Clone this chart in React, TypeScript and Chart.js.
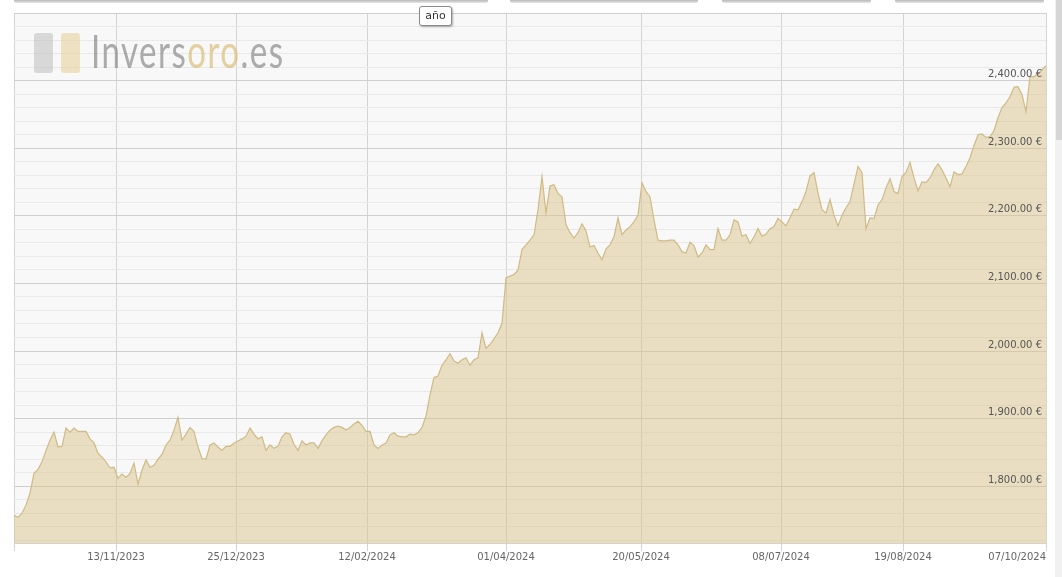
import React, { useEffect, useRef } from 'react';
import { Chart, registerables } from 'chart.js';

Chart.register(...registerables);

// Gold price in EUR, one value per trading day (Oct 2023 - Oct 2024)
const priceValues: number[] = [
  1757, 1754, 1760, 1772, 1790, 1819, 1825, 1836, 1853, 1868,
  1880, 1858, 1859, 1886, 1880, 1886, 1881, 1881, 1881, 1870,
  1864, 1849, 1843, 1836, 1827, 1828, 1812, 1818, 1813, 1819,
  1834, 1803, 1824, 1839, 1828, 1831, 1840, 1847, 1861, 1868,
  1883, 1902, 1868, 1877, 1887, 1881, 1858, 1841, 1840, 1861,
  1864, 1858, 1853, 1859, 1859, 1864, 1867, 1870, 1874, 1886,
  1877, 1870, 1873, 1853, 1861, 1856, 1859, 1873, 1879, 1877,
  1862, 1853, 1867, 1861, 1864, 1864, 1856, 1867, 1876, 1883,
  1887, 1889, 1887, 1883, 1887, 1892, 1896, 1890, 1881, 1881,
  1861, 1856, 1861, 1864, 1876, 1879, 1874, 1873, 1873, 1877,
  1876, 1879, 1887, 1904, 1935, 1961, 1963, 1979, 1987, 1996,
  1985, 1982, 1987, 1990, 1979, 1987, 1990, 2027, 2004, 2010,
  2018, 2027, 2041, 2108, 2111, 2113, 2120, 2150, 2157, 2164,
  2172, 2209, 2258, 2204, 2244, 2246, 2233, 2228, 2187, 2175,
  2167, 2175, 2188, 2178, 2154, 2156, 2145, 2135, 2151, 2157,
  2169, 2197, 2172, 2179, 2184, 2191, 2201, 2249, 2236, 2228,
  2194, 2164, 2163, 2163, 2164, 2164, 2157, 2147, 2145, 2161,
  2156, 2139, 2145, 2157, 2150, 2150, 2181, 2164, 2164, 2172,
  2194, 2191, 2170, 2172, 2159, 2169, 2181, 2170, 2173, 2181,
  2184, 2196, 2191, 2185, 2197, 2210, 2209, 2221, 2236, 2259,
  2264, 2234, 2209, 2204, 2224, 2201, 2185, 2201, 2212, 2221,
  2247, 2273, 2264, 2181, 2197, 2196, 2216, 2224, 2241, 2255,
  2236, 2233, 2258, 2264, 2279, 2256, 2237, 2250, 2249, 2256,
  2268, 2277, 2268, 2256, 2243, 2265, 2261, 2262, 2273, 2286,
  2304, 2320, 2321, 2316, 2317, 2326, 2345, 2360, 2367, 2376,
  2390, 2391, 2379, 2354, 2406, 2406, 2410, 2416, 2422,
];

// x-axis tick positions (trading-day index) and their labels
const xTickIndices: number[] = [0, 25.5, 55.5, 88.25, 123, 156.75, 191.75, 222.25, 258];
const xTickLabels: string[] = [
  '', '13/11/2023', '25/12/2023', '12/02/2024', '01/04/2024',
  '20/05/2024', '08/07/2024', '19/08/2024', '07/10/2024',
];

// y-axis: labelled values every 100, light grid every 20
const yLabelledValues: number[] = [1800, 1900, 2000, 2100, 2200, 2300, 2400];
const yMin = 1716;
const yMax = 2500;
const yMajorStep = 100;
const yMinorStep = 20;
const yFirstTick = 1720;

const fmtEuro = (v: number): string => {
  const th = Math.floor(v / 1000);
  const rest = String(v % 1000).padStart(3, '0');
  return `${th},${rest}.00 €`;
};

const plotBackground = {
  id: 'plotBackground',
  beforeDraw(chart: any) {
    const { ctx, chartArea } = chart;
    ctx.save();
    ctx.fillStyle = '#f8f8f8';
    ctx.fillRect(chartArea.left, chartArea.top, chartArea.right - chartArea.left, chartArea.bottom - chartArea.top);
    ctx.restore();
  },
  afterDatasetsDraw(chart: any) {
    const { ctx, chartArea } = chart;
    ctx.save();
    ctx.strokeStyle = '#d6d2c6';
    ctx.lineWidth = 1;
    ctx.beginPath();
    ctx.moveTo(chartArea.left, Math.round(chartArea.bottom) + 0.5);
    ctx.lineTo(chartArea.right, Math.round(chartArea.bottom) + 0.5);
    ctx.stroke();
    ctx.restore();
  },
};

function GoldChart() {
  const canvasRef = useRef<HTMLCanvasElement | null>(null);

  useEffect(() => {
    if (!canvasRef.current) return;
    const chart = new Chart(canvasRef.current, {
      type: 'line',
      data: {
        datasets: [
          {
            data: priceValues.map((v, i) => ({ x: i, y: v })),
            borderColor: '#cfbb85',
            borderWidth: 1.2,
            backgroundColor: 'rgba(220,196,140,0.5)',
            fill: 'start',
            pointRadius: 0,
            tension: 0,
          },
        ],
      },
      options: {
        animation: false,
        responsive: false,
        maintainAspectRatio: false,
        layout: { padding: { left: 14, right: 16, top: 13, bottom: 14 } },
        plugins: {
          legend: { display: false },
          tooltip: { enabled: false },
        },
        scales: {
          x: {
            type: 'linear',
            min: 0,
            max: priceValues.length - 1,
            afterBuildTicks: (scale: any) => {
              scale.ticks = xTickIndices.map((v) => ({ value: v }));
            },
            ticks: {
              autoSkip: false,
              maxRotation: 0,
              align: 'inner',
              padding: 0,
              color: '#666',
              font: { family: 'DejaVu Sans', size: 10 },
              callback: (_v: any, i: number) => xTickLabels[i],
            },
            grid: { color: '#d4d4d4', drawTicks: true, tickLength: 8 },
            border: { display: false },
          },
          y: {
            type: 'linear',
            position: 'right',
            min: yMin,
            max: yMax,
            afterBuildTicks: (scale: any) => {
              const t: any[] = [];
              for (let v = yFirstTick; v <= yMax; v += yMinorStep) t.push({ value: v });
              scale.ticks = t;
            },
            ticks: {
              autoSkip: false,
              mirror: true,
              padding: -4,
              labelOffset: -6,
              z: 1,
              color: '#555',
              font: { family: 'DejaVu Sans', size: 10 },
              callback: (v: any) => (yLabelledValues.includes(Number(v)) ? fmtEuro(Number(v)) : ''),
            },
            grid: {
              drawTicks: false,
              color: (ctx: any) =>
                ctx.tick && ctx.tick.value % yMajorStep === 0 ? '#cfcfcf' : '#e9e9e9',
            },
            border: { display: false },
          },
        },
      },
      plugins: [plotBackground],
    } as any);
    return () => chart.destroy();
  }, []);

  return <canvas ref={canvasRef} width={1062} height={577} style={{ position: 'absolute', left: 0, top: 0 }} />;
}

export default function App() {
  const tabs = [
    [14, 488],
    [510, 698],
    [722, 871],
    [895, 1044],
  ];
  return (
    <div
      style={{
        position: 'fixed',
        left: 0,
        top: 0,
        width: 1062,
        height: 577,
        background: '#ffffff',
        overflow: 'hidden',
      }}
    >
      <GoldChart />
      {tabs.map(([a, b], i) => (
        <div
          key={i}
          style={{
            position: 'absolute',
            left: a,
            top: 0,
            width: b - a,
            height: 3,
            background: 'linear-gradient(#b8b8b8, #e8e8e8)',
            borderRadius: '0 0 2px 2px',
          }}
        />
      ))}
      {/* watermark */}
      <div style={{ position: 'absolute', left: 34, top: 33, height: 40, pointerEvents: 'none' }}>
        <div
          style={{
            position: 'absolute',
            left: 0,
            top: 0,
            width: 19,
            height: 40,
            borderRadius: 3,
            background: 'rgba(190,190,190,0.55)',
          }}
        />
        <div
          style={{
            position: 'absolute',
            left: 27,
            top: 0,
            width: 19,
            height: 40,
            borderRadius: 3,
            background: 'rgba(230,205,150,0.55)',
          }}
        />
        <div
          style={{
            position: 'absolute',
            left: 57,
            top: -10,
            fontFamily: 'Lato, "Open Sans", sans-serif',
            fontWeight: 400,
            fontSize: 46,
            lineHeight: '56px',
            whiteSpace: 'nowrap',
            letterSpacing: 2,
            transform: 'scaleX(0.72)',
            transformOrigin: 'left center',
            color: 'rgba(120,120,120,0.6)',
          }}
        >
          Invers<span style={{ color: 'rgba(215,185,110,0.65)' }}>oro</span>.es
        </div>
      </div>
      {/* period button */}
      <div
        style={{
          position: 'absolute',
          left: 419,
          top: 6,
          width: 31,
          height: 18,
          border: '1px solid #8a8a8a',
          borderRadius: 3,
          background: '#ffffff',
          boxShadow: '1px 1px 2px rgba(0,0,0,0.3)',
          fontFamily: 'DejaVu Sans, sans-serif',
          fontSize: 11,
          lineHeight: '18px',
          textAlign: 'center',
          color: '#333',
        }}
      >
        año
      </div>
      {/* scrollbar strip */}
      <div style={{ position: 'absolute', left: 1055, top: 0, width: 7, height: 577, background: '#f1f1f1' }} />
      <div style={{ position: 'absolute', left: 1056, top: 0, width: 6, height: 140, background: '#d6d6d6' }} />
    </div>
  );
}
